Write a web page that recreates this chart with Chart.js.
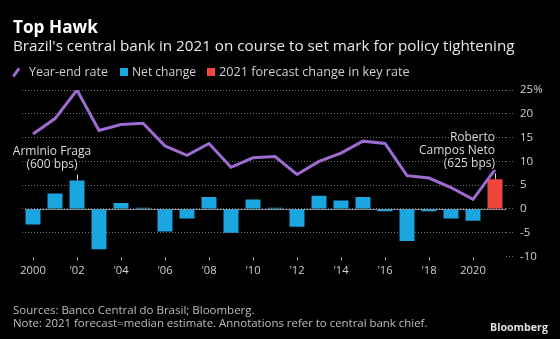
<!DOCTYPE html>
<html><head><meta charset="utf-8">
<script src="https://cdn.jsdelivr.net/npm/chart.js@4.4.1/dist/chart.umd.min.js"></script>
<style>
html,body{margin:0;padding:0;background:#000;}
#wrap{position:relative;width:560px;height:339px;overflow:hidden;background:#000;}
#c{position:absolute;left:0;top:0;}
.t{position:absolute;left:0;top:0;white-space:nowrap;line-height:1;font-family:"Open Sans",sans-serif;font-size:12px;color:#cfcfcf;}
.sw{position:absolute;}
</style></head><body>
<div id="wrap">
<canvas id="c" width="560" height="339"></canvas>
<div class="t" id="title" style="font-weight:700;color:#fff;font-size:16px">Top Hawk</div>
<div class="t" id="subtitle" style="color:#e8e8e8;font-size:15px">Brazil's central bank in 2021 on course to set mark for policy tightening</div>
<div class="sw" style="left:11px;top:71px;width:10px;height:2.6px;background:#9d6bd1;transform:rotate(-55deg);"></div>
<div class="t" id="leg1">Year-end rate</div>
<div class="sw" style="left:120px;top:68px;width:8px;height:8px;background:#1aa7e1;"></div>
<div class="t" id="leg2">Net change</div>
<div class="sw" style="left:207px;top:68px;width:8px;height:8px;background:#f0463a;"></div>
<div class="t" id="leg3">2021 forecast change in key rate</div>
<div class="t" id="src" style="color:#bdbdbd">Sources: Banco Central do Brasil; Bloomberg.</div>
<div class="t" id="note" style="color:#bdbdbd">Note: 2021 forecast=median estimate. Annotations refer to central bank chief.</div>
<div class="t" id="logo" style="font-weight:700;color:#e0e0e0">Bloomberg</div>
</div>
<script>
// ---- data ----
const years = ['2000','2001','2002','2003','2004','2005','2006','2007','2008','2009','2010',
  '2011','2012','2013','2014','2015','2016','2017','2018','2019','2020','2021'];
const tickLabels = ['2000','',"'02",'',"'04",'',"'06",'',"'08",'',"'10",'',"'12",'',"'14",'',"'16",'',"'18",'','2020',''];
const yearEndRate = [15.75,19,25,16.5,17.75,18,13.25,11.25,13.75,8.75,10.75,11,7.25,10,11.75,14.25,13.75,7,6.5,4.5,2,8.25];
const netChange = [-3.25,3.25,6,-8.5,1.25,0.25,-4.75,-2,2.5,-5,2,0.25,-3.75,2.75,1.75,2.5,-0.5,-6.75,-0.5,-2,-2.5,null];
const forecastChange = [null,null,null,null,null,null,null,null,null,null,null,null,null,null,null,null,null,null,null,null,null,6.25];
const annotationItems = [
  {year:'2002', lines:['Arminio Fraga','(600 bps)'], align:'center', dx:-25},
  {year:'2021', lines:['Roberto','Campos Neto','(625 bps)'], align:'right', dx:0}
];

const FONT = '"Open Sans", sans-serif';
const PURPLE = '#9d6bd1', BLUE = '#1aa7e1', RED = '#f0463a';

function place(id, x, base, w) {
  const el = document.getElementById(id);
  const wrapTop = document.getElementById('wrap').getBoundingClientRect().top;
  if (w) {
    const fs0 = parseFloat(getComputedStyle(el).fontSize);
    const r = el.getBoundingClientRect();
    el.style.fontSize = (fs0 * w / r.width) + 'px';
  }
  el.style.left = x + 'px';
  el.style.top = '0px';
  const m = document.createElement('span');
  m.style.cssText = 'display:inline-block;width:0;height:0;vertical-align:baseline';
  el.appendChild(m);
  const b = m.getBoundingClientRect().top - wrapTop;
  el.style.top = (base - b) + 'px';
}
place('title', 13, 32.7, 85);
place('subtitle', 13, 50.7, 502);
place('leg1', 29, 76, 79);
place('leg2', 132, 76, 64);
place('leg3', 219, 76, 191);
place('src', 13, 314, 242);
place('note', 13, 326.5, 415);
place('logo', 490, 331, 58);

const zeroLine = {
  id: 'zeroLine',
  beforeDatasetsDraw(chart) {
    const {ctx, chartArea, scales} = chart;
    const y = Math.round(scales.y.getPixelForValue(0)) + 0.5;
    ctx.save();
    ctx.strokeStyle = '#8a8a8a';
    ctx.lineWidth = 1;
    ctx.beginPath();
    ctx.moveTo(chartArea.left + 3, y);
    ctx.lineTo(chartArea.right, y);
    ctx.stroke();
    ctx.restore();
  }
};

const notes = {
  id: 'notes',
  afterDatasetsDraw(chart) {
    const {ctx, scales} = chart;
    ctx.save();
    ctx.font = '12px ' + FONT;
    ctx.textBaseline = 'alphabetic';
    annotationItems.forEach(a => {
      const i = years.indexOf(a.year);
      const v = netChange[i] != null ? netChange[i] : forecastChange[i];
      const xc = scales.x.getPixelForValue(i);
      const top = scales.y.getPixelForValue(v);
      const xl = Math.round(xc) + 0.5;
      ctx.strokeStyle = '#cfcfcf';
      ctx.lineWidth = 1;
      ctx.beginPath();
      ctx.moveTo(xl, top - 6);
      ctx.lineTo(xl, top);
      ctx.stroke();
      ctx.textAlign = a.align;
      const n = a.lines.length;
      a.lines.forEach((t, k) => {
        const yb = top - 12 - (n - 1 - k) * 13.2;
        const x = xc + a.dx;
        ctx.lineWidth = 3;
        ctx.strokeStyle = '#000';
        ctx.strokeText(t, x, yb);
        ctx.fillStyle = '#dcdcdc';
        ctx.fillText(t, x, yb);
      });
    });
    ctx.restore();
  }
};

Chart.defaults.font.family = FONT;
new Chart(document.getElementById('c'), {
  data: {
    labels: years,
    datasets: [
      {type:'line', label:'Year-end rate', data: yearEndRate, borderColor: PURPLE, borderWidth: 3,
        pointRadius: 0, tension: 0, order: 0},
      {type:'bar', label:'Net change', data: netChange, backgroundColor: BLUE, grouped:false,
        barPercentage: 0.68, categoryPercentage: 1, order: 1},
      {type:'bar', label:'2021 forecast change in key rate', data: forecastChange, backgroundColor: RED, grouped:false,
        barPercentage: 0.68, categoryPercentage: 1, order: 1}
    ]
  },
  options: {
    responsive: false,
    animation: false,
    layout: {padding: {top: 90, left: 22, right: 0, bottom: 0}},
    plugins: {legend: {display: false}, tooltip: {enabled: false}, title: {display:false}},
    scales: {
      x: {
        type: 'category',
        offset: true,
        afterFit: s => { s.height = 82.5; },
        border: {display: false},
        grid: {
          offset: false, drawOnChartArea: false, drawTicks: true, tickLength: 4,
          color: '#999',
          tickColor: c => (tickLabels[c.index] ? '#9a9a9a' : 'rgba(0,0,0,0)')
        },
        ticks: {
          autoSkip: false, maxRotation: 0, minRotation: 0, padding: 4,
          color: '#cfcfcf', font: {size: 11.2},
          callback: (v, i) => tickLabels[i]
        }
      },
      y: {
        position: 'right',
        min: -10, max: 25,
        afterFit: s => { s.width = 54; },
        border: {display: false, dash: [1, 2]},
        grid: {
          color: c => (c.tick && c.tick.value === -10 ? 'rgba(0,0,0,0)' : '#707070'),
          lineWidth: 1, tickLength: 8, tickBorderDash: [1, 2], tickColor: '#707070'
        },
        ticks: {
          stepSize: 5, padding: 6, color: '#cfcfcf', font: {size: 11.5},
          callback: v => (v === 25 ? '25%' : String(v))
        }
      }
    }
  },
  plugins: [zeroLine, notes]
});
</script>
</body></html>
